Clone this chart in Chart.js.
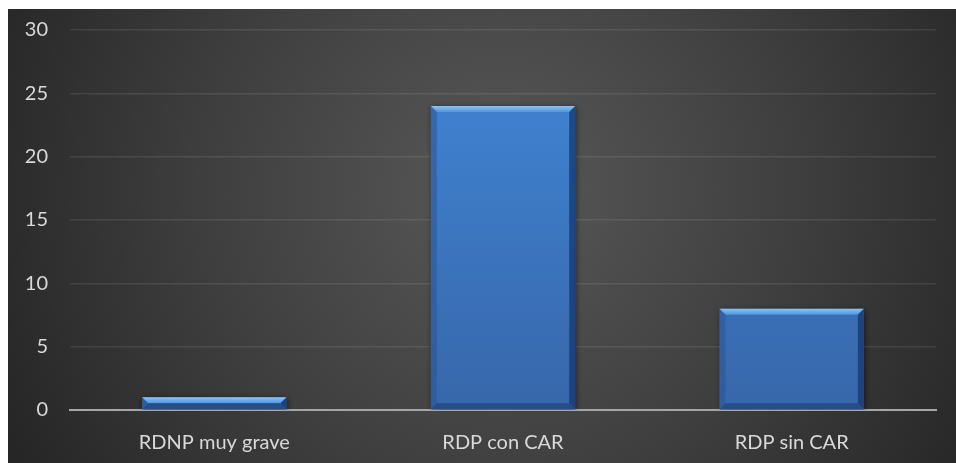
<!DOCTYPE html>
<html>
<head>
<meta charset="utf-8">
<script src="https://cdn.jsdelivr.net/npm/chart.js@4"></script>
<style>
	html, body { margin: 0; padding: 0; background: #ffffff; }
	#wrap { position: absolute; left: 8px; top: 9px; width: 948px; height: 454px; }
</style>
</head>
<body>
<div id="wrap"><canvas id="chart"></canvas></div>
<script>
const categories = ['RDNP muy grave', 'RDP con CAR', 'RDP sin CAR'];
const values = [1, 24, 8];
const yTicks = [0, 5, 10, 15, 20, 25, 30];

const FONT = 'Lato, "Open Sans", sans-serif';

// dark radial background like the spreadsheet chart area
const backgroundPlugin = {
	id: 'background',
	beforeDraw(chart) {
		const ctx = chart.ctx;
		const w = chart.width, h = chart.height;
		const g = ctx.createRadialGradient(w * 0.52, h * 0.4, 0, w * 0.52, h * 0.4, w * 0.58);
		g.addColorStop(0, '#585858');
		g.addColorStop(0.55, '#3e3e3e');
		g.addColorStop(1, '#262626');
		ctx.save();
		ctx.fillStyle = g;
		ctx.fillRect(0, 0, w, h);
		ctx.restore();
	}
};

// bevel edges on top of each bar
const bevelPlugin = {
	id: 'bevel',
	beforeDatasetsDraw(chart) {
		const ctx = chart.ctx;
		ctx.save();
		ctx.shadowColor = 'rgba(0,0,0,0.55)';
		ctx.shadowBlur = 6;
		ctx.shadowOffsetX = 1;
		ctx.shadowOffsetY = 1;
	},
	afterDatasetsDraw(chart) {
		const ctx = chart.ctx;
		ctx.restore();
		const meta = chart.getDatasetMeta(0);
		meta.data.forEach((bar) => {
			const left = bar.x - bar.width / 2;
			const right = bar.x + bar.width / 2;
			const top = bar.y;
			const bottom = bar.base;
			const b = Math.min(6, (bottom - top) / 2);

			ctx.save();
			// top bevel
			let g = ctx.createLinearGradient(0, top, 0, top + b);
			g.addColorStop(0, '#8cc4f5');
			g.addColorStop(1, '#4f95e0');
			ctx.fillStyle = g;
			ctx.beginPath();
			ctx.moveTo(left, top);
			ctx.lineTo(right, top);
			ctx.lineTo(right - b, top + b);
			ctx.lineTo(left + b, top + b);
			ctx.closePath();
			ctx.fill();

			// left bevel
			ctx.fillStyle = 'rgba(40, 85, 150, 0.55)';
			ctx.beginPath();
			ctx.moveTo(left, top);
			ctx.lineTo(left + b, top + b);
			ctx.lineTo(left + b, bottom - b);
			ctx.lineTo(left, bottom);
			ctx.closePath();
			ctx.fill();

			// right bevel
			ctx.fillStyle = 'rgba(20, 50, 100, 0.7)';
			ctx.beginPath();
			ctx.moveTo(right, top);
			ctx.lineTo(right - b, top + b);
			ctx.lineTo(right - b, bottom - b);
			ctx.lineTo(right, bottom);
			ctx.closePath();
			ctx.fill();

			// bottom bevel
			ctx.fillStyle = 'rgba(25, 60, 115, 0.6)';
			ctx.beginPath();
			ctx.moveTo(left, bottom);
			ctx.lineTo(left + b, bottom - b);
			ctx.lineTo(right - b, bottom - b);
			ctx.lineTo(right, bottom);
			ctx.closePath();
			ctx.fill();
			ctx.restore();
		});
	}
};

const ctx = document.getElementById('chart');

new Chart(ctx, {
	type: 'bar',
	data: {
		labels: categories,
		datasets: [{
			data: values,
			backgroundColor: (c) => {
				const area = c.chart.chartArea;
				if (!area) return '#3d7bc8';
				const g = c.chart.ctx.createLinearGradient(0, area.top, 0, area.bottom);
				g.addColorStop(0, '#4187d8');
				g.addColorStop(1, '#3767aa');
				return g;
			},
			borderWidth: 0,
			categoryPercentage: 1,
			barPercentage: 0.5,
		}]
	},
	options: {
		responsive: true,
		maintainAspectRatio: false,
		animation: false,
		layout: {
			padding: { top: 21, right: 20, left: 0, bottom: 0 }
		},
		plugins: {
			legend: { display: false },
			tooltip: { enabled: false },
		},
		scales: {
			x: {
				afterFit: (scale) => {
					scale.height = 53;
					scale.paddingLeft = 0;
					scale.paddingRight = 0;
				},
				grid: { display: false, drawTicks: false },
				border: { display: true, color: '#a6a6a6', width: 2 },
				ticks: {
					color: '#d9d9d9',
					padding: 21,
					font: { family: FONT, size: 20 },
				}
			},
			y: {
				min: 0,
				max: 30,
				afterBuildTicks: (scale) => {
					scale.ticks = yTicks.map(v => ({ value: v }));
				},
				afterFit: (scale) => {
					scale.width = 62;
					scale.paddingTop = 0;
					scale.paddingBottom = 0;
				},
				grid: {
					color: 'rgba(255,255,255,0.09)',
					lineWidth: 1.5,
					drawTicks: false,
				},
				border: { display: false },
				ticks: {
					color: '#d9d9d9',
					padding: 22,
					font: { family: FONT, size: 20 },
				}
			}
		}
	},
	plugins: [backgroundPlugin, bevelPlugin]
});
</script>
</body>
</html>
